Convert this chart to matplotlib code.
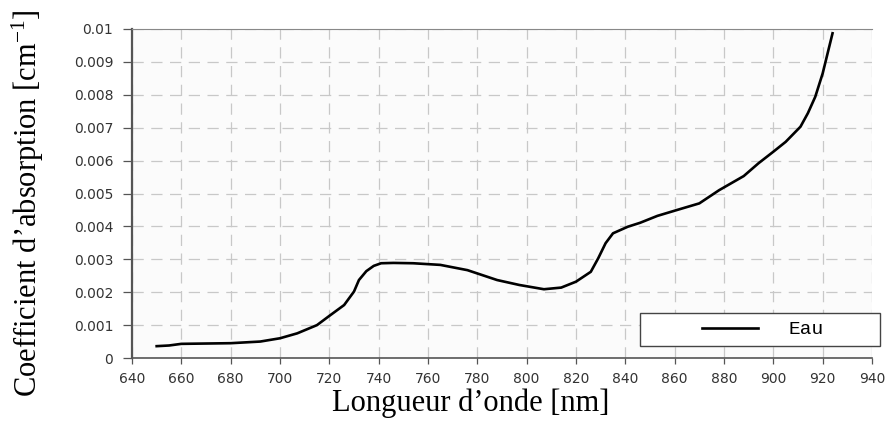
import matplotlib
matplotlib.use("Agg")
import matplotlib.pyplot as plt
from matplotlib.patches import Rectangle

plt.rcParams["mathtext.fontset"] = "custom"
plt.rcParams["mathtext.rm"] = "Liberation Serif"
plt.rcParams["mathtext.it"] = "Liberation Serif:italic"

# wavelength (nm) and absorption coefficient (cm^-1)
wavelength = [650, 655, 660, 670, 680, 692, 700, 707, 715, 720, 726, 730,
              732, 735, 738, 741, 746, 754, 765, 776, 788, 797, 807, 814,
              820, 826, 829, 832, 835, 841, 846, 853, 861, 870, 878, 888,
              894, 900, 905, 911, 914, 917, 920, 922, 924]
absorption = [0.00036, 0.00038, 0.00043, 0.00044, 0.00045, 0.0005, 0.0006,
              0.00075, 0.001, 0.00128, 0.00161, 0.00202, 0.00237, 0.00264,
              0.0028, 0.00288, 0.00289, 0.00288, 0.00283, 0.00267, 0.00237,
              0.00222, 0.00209, 0.00214, 0.00232, 0.00262, 0.00303, 0.00349,
              0.00379, 0.00399, 0.00411, 0.00432, 0.0045, 0.0047, 0.0051,
              0.00553, 0.00592, 0.00627, 0.00657, 0.00703, 0.00744, 0.00794,
              0.00865, 0.00926, 0.00987]

x_ticks = list(range(640, 941, 20))
y_ticks = [0, 0.001, 0.002, 0.003, 0.004, 0.005, 0.006, 0.007, 0.008, 0.009, 0.01]
y_labels = ["0", "0.001", "0.002", "0.003", "0.004", "0.005", "0.006",
            "0.007", "0.008", "0.009", "0.01"]

fig = plt.figure(figsize=(8.88, 4.34), dpi=100)
ax = fig.add_axes([132 / 888, 1 - 358 / 434, 740 / 888, 329 / 434])
ax.set_facecolor("#fbfbfb")

ax.plot(wavelength, absorption, color="black", linewidth=1.9, label="Eau")

ax.set_xlim(640, 940)
ax.set_ylim(0, 0.01)
ax.set_xticks(x_ticks)
ax.set_yticks(y_ticks)
ax.set_yticklabels(y_labels)
ax.tick_params(labelsize=10, width=0.9, color="#555555", labelcolor="#333333")
ax.tick_params(axis="y", length=6.5, pad=7)
ax.tick_params(axis="x", length=4, pad=6)
for lab in ax.get_xticklabels() + ax.get_yticklabels():
    lab.set_family("DejaVu Sans")

ax.grid(True, color="#c8c8c8", linestyle=(0, (9, 6)), linewidth=0.9)

ax.spines["right"].set_visible(False)
ax.spines["top"].set_color("#888888")
ax.spines["left"].set_color("#555555")
ax.spines["left"].set_linewidth(1.6)
ax.spines["bottom"].set_color("#555555")
ax.spines["bottom"].set_linewidth(1.2)

fig.text(471 / 888, 1 - 403 / 434, "Longueur d’onde [nm]",
         family="Liberation Serif", fontsize=22, ha="center", va="center")
fig.text(28 / 888, 1 - 203 / 434, "Coefficient d’absorption [cm$^{\\mathrm{-1}}$]",
         family="Liberation Serif", fontsize=22, ha="center", va="center",
         rotation=90)

# legend box drawn separately so the padding can be uneven like the original
ax.add_patch(Rectangle((0.6865, 0.0365), 0.3243, 0.1003, transform=ax.transAxes,
                       facecolor="white", edgecolor="#444444", linewidth=1.0,
                       clip_on=False, zorder=4))
leg = ax.legend(loc="center left", bbox_to_anchor=(0.770, 0.0866),
                borderaxespad=0, borderpad=0, frameon=False,
                prop={"family": "Liberation Mono", "size": 14},
                handlelength=2.9, handletextpad=1.55)
leg.set_zorder(5)

fig.savefig("out.png", dpi=100)
